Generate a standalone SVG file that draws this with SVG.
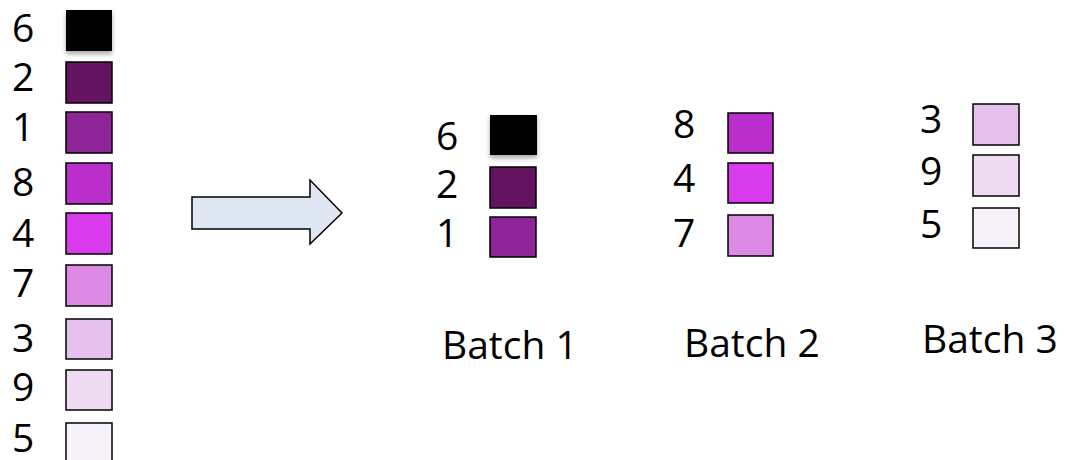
<svg xmlns="http://www.w3.org/2000/svg" width="1067" height="460" viewBox="0 0 1067 460">
<style>
.t{font-family:"Open Sans","Liberation Sans",sans-serif;font-size:39px;fill:#000}
.sq{stroke:#000;stroke-width:1.5}
</style>
<defs>
<filter id="sh" x="-30%" y="-30%" width="160%" height="170%">
<feDropShadow dx="0" dy="3" stdDeviation="2.5" flood-color="#000" flood-opacity="0.35"/>
</filter>
</defs>
<rect width="1067" height="460" fill="#fff"/>
<g id="column">
<text class="t" x="12" y="42">6</text>
<rect x="66" y="10" width="46" height="41" fill="#000" filter="url(#sh)"/>
<text class="t" x="12" y="91">2</text>
<rect class="sq" x="66" y="62" width="46" height="41" fill="#63135f"/>
<text class="t" x="12" y="141">1</text>
<rect class="sq" x="66" y="112" width="46" height="41" fill="#8e2596"/>
<text class="t" x="12" y="196">8</text>
<rect class="sq" x="66" y="163" width="46" height="41" fill="#ba2fcb"/>
<text class="t" x="12" y="247">4</text>
<rect class="sq" x="66" y="213" width="46" height="41" fill="#d83beb"/>
<text class="t" x="12" y="297">7</text>
<rect class="sq" x="66" y="265" width="46" height="41" fill="#dd8ae4"/>
<text class="t" x="12" y="352">3</text>
<rect class="sq" x="66" y="319" width="46" height="40" fill="#e6c1ee"/>
<text class="t" x="12" y="401">9</text>
<rect class="sq" x="66" y="370" width="46" height="40" fill="#efdcf3"/>
<text class="t" x="12" y="452">5</text>
<rect class="sq" x="66" y="423" width="46" height="41" fill="#f8f3fa"/>
</g>
<g id="connectors">
<polygon points="192,197 310,197 310,180 342,213 310,244 310,229 192,229" fill="#dfe7f2" stroke="#000" stroke-width="1.5" stroke-linejoin="miter"/>
</g>
<g id="batch1">
<text class="t" x="436" y="150">6</text>
<rect x="490" y="115" width="47" height="40" fill="#000" filter="url(#sh)"/>
<text class="t" x="436" y="198">2</text>
<rect class="sq" x="490" y="167" width="46" height="41" fill="#63135f"/>
<text class="t" x="436" y="247">1</text>
<rect class="sq" x="490" y="217" width="46" height="40" fill="#8e2596"/>
<text class="t" x="442" y="359">Batch 1</text>
</g>
<g id="batch2">
<text class="t" x="673" y="138">8</text>
<rect class="sq" x="728" y="113" width="45" height="40" fill="#ba2fcb"/>
<text class="t" x="673" y="192">4</text>
<rect class="sq" x="728" y="163" width="45" height="40" fill="#d83beb"/>
<text class="t" x="673" y="247">7</text>
<rect class="sq" x="728" y="215" width="45" height="41" fill="#dd8ae4"/>
<text class="t" x="684" y="357">Batch 2</text>
</g>
<g id="batch3">
<text class="t" x="920" y="133">3</text>
<rect class="sq" x="973" y="104" width="46" height="41" fill="#e6c1ee"/>
<text class="t" x="920" y="185">9</text>
<rect class="sq" x="973" y="155" width="46" height="41" fill="#efdcf3"/>
<text class="t" x="920" y="238">5</text>
<rect class="sq" x="973" y="208" width="46" height="40" fill="#f8f3fa"/>
<text class="t" x="922" y="353">Batch 3</text>
</g>
</svg>
